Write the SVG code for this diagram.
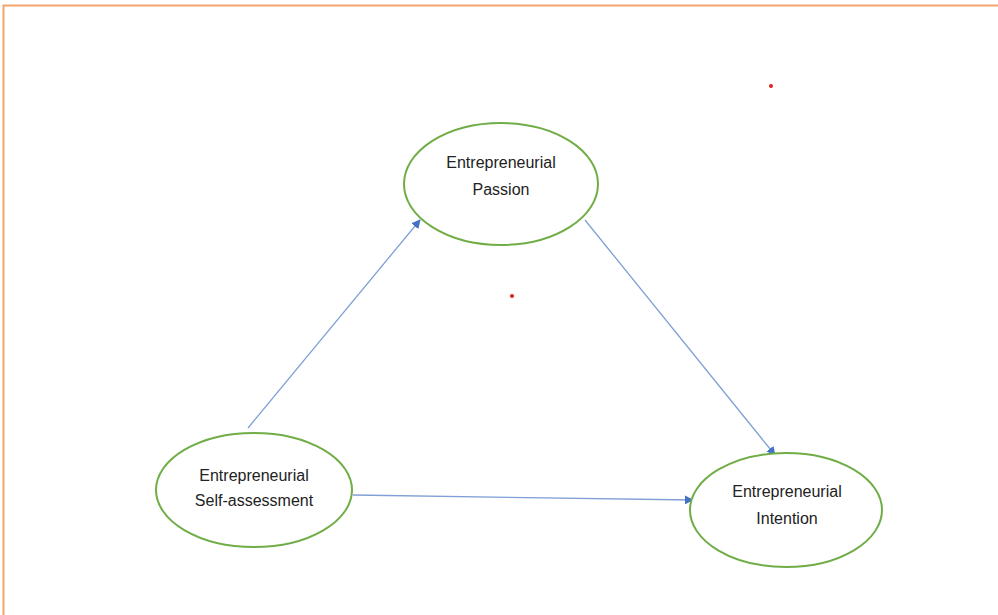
<svg xmlns="http://www.w3.org/2000/svg" width="998" height="615" viewBox="0 0 998 615">
<style>
.node{fill:#fff;stroke:#70ad47;stroke-width:2}
.lbl{font-family:"Liberation Sans",Arial,sans-serif;font-size:16px;fill:#222;text-anchor:middle}
.edge{stroke:#7f9fd6;stroke-width:1.3;fill:none;marker-end:url(#ah)}
</style>
<defs>
<marker id="ah" viewBox="0 0 10 10" refX="9" refY="5" markerWidth="9" markerHeight="9" markerUnits="userSpaceOnUse" orient="auto">
<path d="M0,0 L10,5 L0,10 z" fill="#4472c4"/>
</marker>
</defs>
<rect width="998" height="615" fill="#fff"/>
<path d="M3.5,615 V5.5 H998" fill="none" stroke="#f4a46a" stroke-width="2"/>
<g id="connectors">
<line class="edge" x1="248" y1="428" x2="420" y2="220"/>
<line class="edge" x1="585" y1="220" x2="775" y2="455"/>
<line class="edge" x1="353" y1="495" x2="693" y2="500"/>
</g>
<g id="passion">
<ellipse class="node" cx="501" cy="184" rx="97" ry="61"/>
<text class="lbl" x="501" y="168">Entrepreneurial</text>
<text class="lbl" x="501" y="195">Passion</text>
</g>
<g id="selfassessment">
<ellipse class="node" cx="254" cy="490" rx="98" ry="57"/>
<text class="lbl" x="254" y="481">Entrepreneurial</text>
<text class="lbl" x="254" y="506">Self-assessment</text>
</g>
<g id="intention">
<ellipse class="node" cx="786" cy="510" rx="96" ry="57"/>
<text class="lbl" x="787" y="497">Entrepreneurial</text>
<text class="lbl" x="787" y="524">Intention</text>
</g>
<circle cx="771" cy="86" r="2" fill="#e02020"/>
<circle cx="512" cy="296" r="2" fill="#e02020"/>
</svg>
